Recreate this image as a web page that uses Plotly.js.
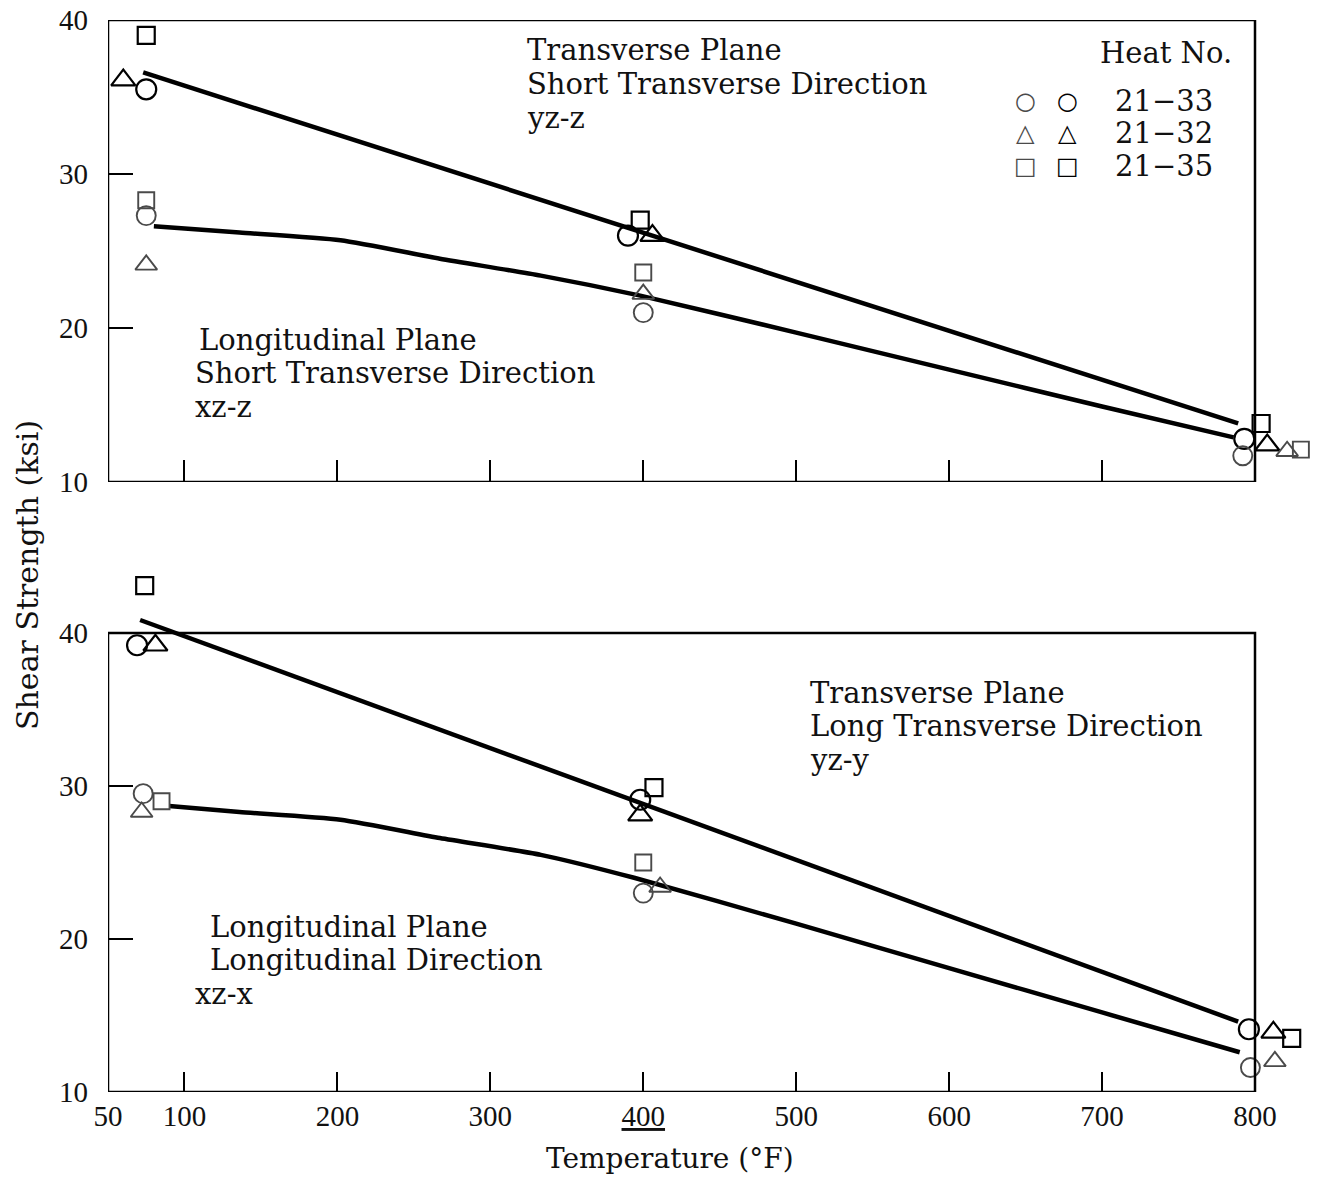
<!DOCTYPE html>
<html><head><meta charset="utf-8">
<script src="https://cdn.plot.ly/plotly-3.0.1.min.js"></script>
<style>body{margin:0;background:#fff}</style>
</head><body><div id="chart" style="width:1328px;height:1177px"></div>
<script>
// ---------- Data (Temperature °F, Shear strength ksi) ----------
// Top panel
const topYzzLineX = [73, 789];
const topYzzLineY = [36.6, 13.8];
const topXzzCurveX = [80, 136, 202, 267, 333, 398, 500, 600, 700, 786];
const topXzzCurveY = [26.6, 26.2, 25.7, 24.5, 23.4, 22.1, 19.7, 17.3, 14.9, 12.9];

const topYzzCircX = [75, 390, 793];  const topYzzCircY = [35.5, 26.0, 12.8];
const topYzzTriX  = [60, 406, 808];  const topYzzTriY  = [36.1, 26.0, 12.4];
const topYzzSqX   = [75, 398, 804];  const topYzzSqY   = [39.0, 27.0, 13.8];
const topXzzCircX = [75, 400, 792];  const topXzzCircY = [27.3, 21.0, 11.7];
const topXzzTriX  = [75, 400, 821];  const topXzzTriY  = [24.1, 22.2, 12.0];
const topXzzSqX   = [75, 400, 830];  const topXzzSqY   = [28.3, 23.6, 12.1];

// Bottom panel
const botYzyLineX = [71, 789];
const botYzyLineY = [40.85, 14.6];
const botXzxCurveX = [90, 136, 202, 267, 333, 394, 500, 600, 700, 790];
const botXzxCurveY = [28.7, 28.3, 27.8, 26.6, 25.5, 24.0, 21.0, 18.1, 15.2, 12.6];

const botYzyCircX = [69, 398, 796];  const botYzyCircY = [39.2, 29.1, 14.1];
const botYzyTriX  = [81, 398, 812];  const botYzyTriY  = [39.2, 28.1, 13.9];
const botYzySqX   = [74, 407, 824];  const botYzySqY   = [43.1, 29.9, 13.5];
const botXzxCircX = [73, 400, 797];  const botXzxCircY = [29.5, 23.0, 11.6];
const botXzxTriX  = [72, 411, 813];  const botXzxTriY  = [28.3, 23.4, 12.0];
const botXzxSqX   = [85, 400];       const botXzxSqY   = [29.0, 25.0];

const xTickVals = [50, 100, 200, 300, 400, 500, 600, 700, 800];
const xTickText = ['50', '100', '200', '300', '<u>400</u>', '500', '600', '700', '800'];
const yTickVals = [10, 20, 30, 40];
const xMin = 50, xMax = 800, yMin = 10, yMax = 40;

const heatNos = ['21\u221233', '21\u221232', '21\u221235'];
const heatSymbols = ['\u25CB', '\u25B3', '\u25A1'];

// ---------- Styling ----------
const TXT = 'DejaVu Serif, Liberation Serif, serif';
const NUM = 'Liberation Serif, DejaVu Serif, serif';
const W = 1328, H = 1177;
// frame pixel geometry
const FL = 108, FR = 1255, TOP_T = 20, TOP_B = 482, BOT_T = 633, BOT_B = 1092;
const ML = FL, MR = 0, MT = TOP_T, MB = H - BOT_B;
const PW = W - ML - MR, PH = H - MT - MB;
const pxPerX = (FR - FL) / (xMax - xMin);
const xRangeMax = xMin + PW / pxPerX;
const px = v => (v - ML) / PW;
const py = v => (H - MB - v) / PH;
const botPxPerY = (BOT_B - BOT_T) / (yMax - yMin);
const botYTopPx = 545;
const botYRangeMax = yMin + (BOT_B - botYTopPx) / botPxPerY;

function lineTrace(x, y, xa, ya, spline) {
  return {x, y, xaxis: xa, yaxis: ya, type: 'scatter', mode: 'lines',
    line: {color: '#000', width: 4.5, shape: spline ? 'spline' : 'linear', smoothing: 0.6},
    hoverinfo: 'skip', showlegend: false};
}
function markTrace(x, y, xa, ya, sym, size, broken) {
  return {x, y, xaxis: xa, yaxis: ya, type: 'scatter', mode: 'markers', cliponaxis: false,
    marker: {symbol: sym, size: size, color: broken ? '#4a4a4a' : '#000',
             line: {width: broken ? 1.9 : 2.2, color: broken ? '#4a4a4a' : '#000'}},
    showlegend: false};
}

const data = [
  lineTrace(topYzzLineX, topYzzLineY, 'x', 'y', false),
  lineTrace(topXzzCurveX, topXzzCurveY, 'x', 'y', true),
  markTrace(topYzzCircX, topYzzCircY, 'x', 'y', 'circle-open', 20, false),
  markTrace(topYzzTriX, topYzzTriY, 'x', 'y', 'triangle-up-open', 21, false),
  markTrace(topYzzSqX, topYzzSqY, 'x', 'y', 'square-open', 17, false),
  markTrace(topXzzCircX, topXzzCircY, 'x', 'y', 'circle-open', 19, true),
  markTrace(topXzzTriX, topXzzTriY, 'x', 'y', 'triangle-up-open', 19, true),
  markTrace(topXzzSqX, topXzzSqY, 'x', 'y', 'square-open', 16, true),

  lineTrace(botYzyLineX, botYzyLineY, 'x2', 'y2', false),
  lineTrace(botXzxCurveX, botXzxCurveY, 'x2', 'y2', true),
  markTrace(botYzyCircX, botYzyCircY, 'x2', 'y2', 'circle-open', 20, false),
  markTrace(botYzyTriX, botYzyTriY, 'x2', 'y2', 'triangle-up-open', 21, false),
  markTrace(botYzySqX, botYzySqY, 'x2', 'y2', 'square-open', 17, false),
  markTrace(botXzxCircX, botXzxCircY, 'x2', 'y2', 'circle-open', 19, true),
  markTrace(botXzxTriX, botXzxTriY, 'x2', 'y2', 'triangle-up-open', 19, true),
  markTrace(botXzxSqX, botXzxSqY, 'x2', 'y2', 'square-open', 16, true)
];

function txt(text, x, y, opts) {
  return Object.assign({text, xref: 'paper', yref: 'paper', x: px(x), y: py(y),
    xanchor: 'left', yanchor: 'middle', showarrow: false,
    font: {family: TXT, size: 29, color: '#111'}}, opts || {});
}

const annotations = [
  txt('Transverse Plane', 525, 50),
  txt('Short Transverse Direction', 525, 84),
  txt('yz-z', 525, 118),
  txt('Heat No.', 1234, 53, {xanchor: 'right'}),
  txt('Longitudinal Plane', 197, 340),
  txt('Short Transverse Direction', 193, 373),
  txt('xz-z', 193, 407),
  txt('Transverse Plane', 808, 693),
  txt('Long Transverse Direction', 808, 726),
  txt('yz-y', 808, 760),
  txt('Longitudinal Plane', 208, 927),
  txt('Longitudinal Direction', 208, 960),
  txt('xz-x', 193, 994),
  txt('Shear Strength (ksi)', 27, 575, {xanchor: 'center', textangle: -90,
    font: {family: TXT, size: 30, color: '#111'}}),
  txt('Temperature (\u00B0F)', 670, 1158, {xanchor: 'center', font: {family: TXT, size: 28, color: '#111'}})
];
const legendRowsY = [101, 133, 166];
heatNos.forEach((h, i) => {
  annotations.push(txt(heatSymbols[i], 1025, legendRowsY[i],
    {xanchor: 'center', font: {family: 'DejaVu Sans', size: 24, color: '#4a4a4a'}}));
  annotations.push(txt(heatSymbols[i], 1067, legendRowsY[i],
    {xanchor: 'center', font: {family: 'DejaVu Sans', size: 24, color: '#000'}}));
  annotations.push(txt(h, 1113, legendRowsY[i]));
});

const frame = (xa, ya) => ({type: 'rect', xref: xa, yref: ya, x0: xMin, x1: xMax, y0: yMin, y1: yMax,
  line: {color: '#000', width: 2.5}, fillcolor: 'rgba(0,0,0,0)', layer: 'above'});

const axBase = {showline: false, showgrid: false, zeroline: false, ticks: 'inside',
  tickcolor: '#000', tickwidth: 2, tickfont: {family: NUM, size: 29, color: '#111'}};

const layout = {
  width: W, height: H, margin: {l: ML, r: MR, t: MT, b: MB},
  paper_bgcolor: '#fff', plot_bgcolor: '#fff', showlegend: false,
  xaxis: Object.assign({}, axBase, {range: [xMin, xRangeMax], domain: [0, 1], anchor: 'y',
    tickvals: xTickVals.slice(1, -1), ticklen: 22, showticklabels: false}),
  yaxis: Object.assign({}, axBase, {range: [yMin, yMax], domain: [py(TOP_B), 1], anchor: 'x',
    tickvals: yTickVals, ticklen: 25, ticklabelstandoff: 19}),
  xaxis2: Object.assign({}, axBase, {range: [xMin, xRangeMax], domain: [0, 1], anchor: 'y2',
    tickvals: xTickVals, ticktext: xTickText, ticklen: 20, ticklabelstandoff: 4}),
  yaxis2: Object.assign({}, axBase, {range: [yMin, botYRangeMax], domain: [0, py(botYTopPx)], anchor: 'x2',
    tickvals: yTickVals, ticklen: 25, ticklabelstandoff: 19}),
  shapes: [frame('x', 'y'), frame('x2', 'y2')],
  annotations
};

Plotly.newPlot('chart', data, layout, {displayModeBar: false, staticPlot: true});
</script></body></html>
